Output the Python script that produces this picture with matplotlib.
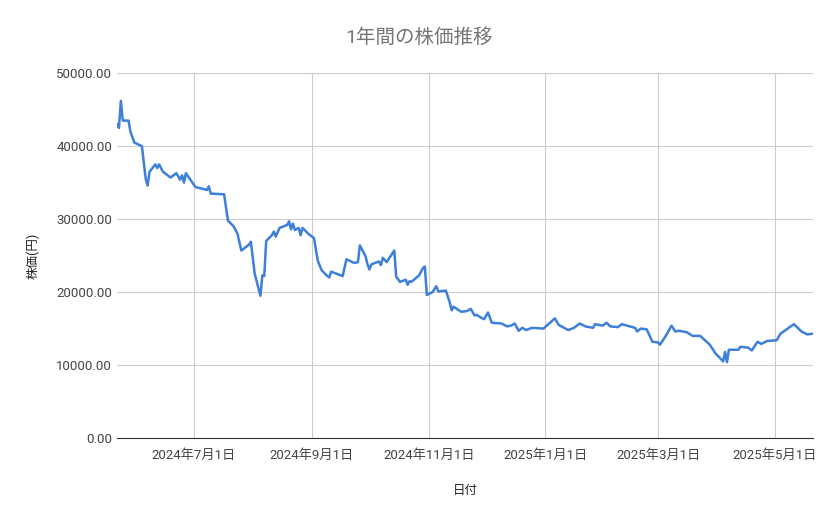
import numpy as np
import pandas as pd
import matplotlib
matplotlib.use('Agg')
import matplotlib.pyplot as plt
import matplotlib.dates as mdates

plt.rcParams['font.family'] = ['Roboto', 'Noto Sans CJK JP', 'DejaVu Sans']

start_date = '2024-05-22'
# days since start_date, price (yen)
days = [0, 1, 2, 3, 6, 7, 9, 13, 15, 16, 17, 20, 21, 22, 24, 28, 31, 33, 34, 35, 36,
        41, 47, 48, 49, 56, 58, 61, 63, 65, 69, 70, 72, 75, 76, 77, 78, 81, 82, 83, 85,
        89, 90, 91, 92, 93, 95, 96, 97, 100, 103, 105, 107, 110, 111, 112, 118, 120,
        124, 126, 127, 130, 131, 132, 133, 137, 138, 139, 141, 145, 146, 148, 151, 152,
        153, 154, 158, 160, 161, 162, 165, 167, 168, 172, 174, 175, 176, 180, 183, 185,
        187, 188, 191, 192, 194, 196, 201, 204, 206, 208, 210, 212, 214, 217, 223, 229,
        231, 236, 239, 242, 245, 249, 250, 254, 256, 258, 262, 264, 271, 272, 274, 277,
        280, 283, 284, 287, 290, 292, 294, 298, 301, 305, 310, 313, 317, 318, 319, 320,
        325, 326, 330, 332, 335, 337, 340, 345, 347, 354, 358, 361, 364]
prices = [43000, 42500, 46200, 43500, 43500, 42000, 40500, 40000, 35500, 34600, 36500,
          37500, 37000, 37500, 36500, 35700, 36300, 35400, 36000, 35000, 36300,
          34400, 34000, 34500, 33500, 33400, 29800, 29000, 28000, 25700, 26500, 26900,
          22500, 19500, 22300, 22200, 27000, 27800, 28300, 27600, 28800,
          29200, 29700, 28600, 29400, 28500, 28800, 27800, 28800, 28000, 27400, 24300,
          23000, 22200, 22000, 22800, 22200, 24500,
          24000, 24100, 26400, 24900, 23800, 23100, 23800, 24200, 23700, 24700, 24100,
          25700, 22100, 21400, 21700, 21000,
          21500, 21400, 22300, 23300, 23500, 19600, 20000, 20800, 20100, 20200, 18600,
          17500, 18000, 17300, 17400, 17700,
          16800, 16900, 16400, 16300, 17200, 15800, 15700, 15300, 15400, 15700, 14700,
          15100, 14800, 15100, 15000, 16400,
          15500, 14800, 15100, 15700, 15300, 15100, 15600, 15400, 15800, 15300, 15200,
          15600, 15100, 14600, 15000, 14900,
          13200, 13100, 12800, 14000, 15400, 14600, 14700, 14500, 14000, 14000, 12800,
          11600, 10500, 11800, 10400, 12100,
          12100, 12500, 12400, 12000, 13200, 12900, 13300, 13400, 14300, 15600, 14600,
          14200, 14300]

tick_dates = ['2024-07-01', '2024-09-01', '2024-11-01', '2025-01-01', '2025-03-01', '2025-05-01']

dates = pd.Timestamp(start_date) + pd.to_timedelta(days, unit='D')

fig = plt.figure(figsize=(8.39, 5.19), dpi=100)
ax = fig.add_axes([0.1395, 0.156, 0.8295, 0.703])
ax.plot(dates, prices, color='#3d7fd9', linewidth=1.8)

ax.set_xlim(dates[0], dates[-1])
ax.set_ylim(0, 50000)
ax.set_yticks(np.arange(0, 50001, 10000))
ax.yaxis.set_major_formatter(plt.FuncFormatter(lambda v, p: '%.2f' % v))
tk = pd.to_datetime(tick_dates)
ax.set_xticks(tk)
ax.set_xticklabels(['%d年%d月%d日' % (t.year, t.month, t.day) for t in tk])

ax.grid(True, color='#cccccc', linewidth=0.8)
ax.set_axisbelow(True)
for s in ['top', 'right', 'left']:
    ax.spines[s].set_visible(False)
ax.spines['bottom'].set_color('#333333')
ax.tick_params(length=0, colors='#444444', labelsize=9.5)
ax.tick_params(axis='x', pad=8)

ax.set_xlabel('日付', color='#222222', fontsize=9, labelpad=16)
ax.set_ylabel('株価(円)', color='#222222', fontsize=9, labelpad=12)
fig.suptitle('1年間の株価推移', x=0.5, y=0.945, color='#757575', fontsize=14)

fig.savefig('out.png', dpi=100)
